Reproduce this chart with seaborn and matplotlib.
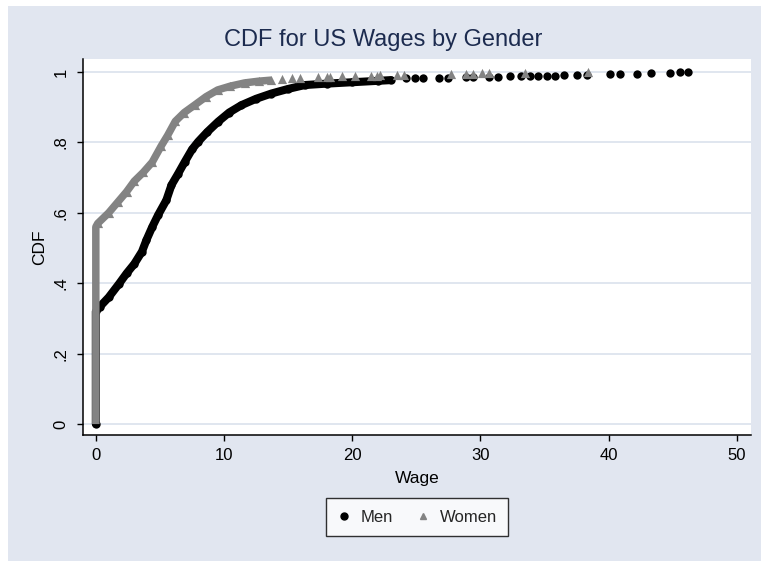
import matplotlib
matplotlib.use('Agg')
import matplotlib.pyplot as plt
from matplotlib.lines import Line2D
from matplotlib.patches import Rectangle
import seaborn as sns

# Men: the dense part of the CDF (markers overlap into a thick band) and the sparse tail
men_wage = [0, 0, 0.3, 1.0, 1.8, 2.4, 3.0, 3.6, 3.95, 4.4, 4.86, 5.5, 5.9, 6.4, 6.94,
            7.5, 7.98, 8.7, 9.54, 10.4, 11.36, 12.5, 13.7, 15.0, 16.3, 18.0, 20.0, 22.0, 23.0]
men_cdf = [0.0, 0.32, 0.333, 0.36, 0.398, 0.428, 0.455, 0.49, 0.523, 0.56, 0.594, 0.636, 0.679,
           0.71, 0.745, 0.78, 0.802, 0.83, 0.859, 0.885, 0.906, 0.924, 0.939, 0.952, 0.963,
           0.967, 0.971, 0.975, 0.977]
men_tail_wage = [24.2, 24.9, 25.5, 26.8, 27.5, 28.9, 29.4, 30.7, 31.4, 32.3, 33.2, 33.9, 34.5,
                 35.2, 35.8, 36.5, 37.5, 38.3, 40.1, 40.9, 42.2, 43.3, 44.8, 45.6, 46.2]
men_tail_cdf = [0.982, 0.983, 0.983, 0.984, 0.984, 0.985, 0.985, 0.986, 0.986, 0.988, 0.988,
                0.989, 0.99, 0.99, 0.99, 0.991, 0.991, 0.992, 0.993, 0.994, 0.995, 0.997,
                0.998, 0.999, 1.0]

# Women
women_wage = [0, 0, 0.15, 1.0, 1.7, 2.4, 3.0, 3.7, 4.4, 5.1, 5.6, 6.2, 6.9, 7.7, 8.6, 9.5,
              10.5, 11.6, 12.7, 13.7]
women_cdf = [0.0, 0.56, 0.57, 0.6, 0.63, 0.66, 0.69, 0.715, 0.744, 0.79, 0.82, 0.86, 0.885,
             0.906, 0.93, 0.949, 0.96, 0.969, 0.974, 0.977]
women_tail_wage = [14.5, 15.3, 15.9, 17.3, 18.0, 18.3, 19.2, 20.2, 21.5, 21.9, 22.2, 23.5,
                   24.0, 27.7, 28.9, 29.4, 30.1, 30.7, 33.5, 38.4]
women_tail_cdf = [0.981, 0.983, 0.984, 0.986, 0.987, 0.987, 0.988, 0.989, 0.99, 0.99, 0.991,
                  0.992, 0.992, 0.994, 0.995, 0.995, 0.996, 0.996, 0.998, 1.0]

x_ticks = [0, 10, 20, 30, 40, 50]
y_ticks = [0, 0.2, 0.4, 0.6, 0.8, 1.0]
y_tick_labels = ['0', '.2', '.4', '.6', '.8', '1']

men_color = 'black'
women_color = '#838383'
bg_color = '#e1e6f0'
grid_color = '#dde4ee'
title_color = '#1c2b4f'

sns.set_theme(style='white')
plt.rcParams['font.family'] = ['Liberation Sans', 'DejaVu Sans']

fig = plt.figure(figsize=(7.61, 5.61), dpi=100, facecolor='white')
fig.add_artist(Rectangle((8 / 761, 0), 1 - 8 / 761, 1 - 6 / 561, transform=fig.transFigure,
                         facecolor=bg_color, edgecolor='none', zorder=-5))
ax = fig.add_axes([83 / 761, 1 - 435 / 561, 668 / 761, 376 / 561])
ax.set_facecolor('white')

# Men (drawn first, women sit on top)
sns.lineplot(x=men_wage, y=men_cdf, sort=False, estimator=None, color=men_color,
             lw=5.8, solid_capstyle='round', solid_joinstyle='round', ax=ax, zorder=3)
sns.scatterplot(x=men_wage + men_tail_wage, y=men_cdf + men_tail_cdf, marker='o', s=36,
                color=men_color, linewidth=0, ax=ax, zorder=3)

# Women
sns.lineplot(x=women_wage, y=women_cdf, sort=False, estimator=None, color=women_color,
             lw=5.4, solid_capstyle='butt', solid_joinstyle='round', ax=ax, zorder=4)
sns.scatterplot(x=women_wage[2:] + women_tail_wage, y=women_cdf[2:] + women_tail_cdf,
                marker='^', s=44, color=women_color, linewidth=0, ax=ax, zorder=4)

ax.set_xlim(-1.0, 51.1)
ax.set_ylim(-0.031, 1.037)
ax.set_xticks(x_ticks)
ax.set_yticks(y_ticks)
ax.set_yticklabels(y_tick_labels, rotation=90, va='center')

ax.yaxis.grid(True, color=grid_color, lw=1.3)
ax.xaxis.grid(False)
ax.set_axisbelow(True)

for side in ['top', 'right']:
    ax.spines[side].set_visible(False)
for side in ['left', 'bottom']:
    ax.spines[side].set_color('black')
    ax.spines[side].set_linewidth(1.1)

ax.tick_params(axis='both', which='major', direction='out', length=4.5, width=1.0,
               color='black', labelsize=12, labelcolor='black', left=True, bottom=True)
ax.tick_params(axis='y', pad=6)
ax.tick_params(axis='x', pad=5)

ax.set_xlabel('Wage', fontsize=12.5, color='black')
ax.set_ylabel('CDF', fontsize=12.5, color='black')
ax.xaxis.set_label_coords(0.5, (435 - 478) / 376)
ax.xaxis.label.set_verticalalignment('center')
ax.yaxis.set_label_coords((40 - 83) / 668, 0.5)
ax.yaxis.label.set_verticalalignment('center')

fig.text(383 / 761, 1 - 40 / 561, 'CDF for US Wages by Gender', ha='center', va='center',
         fontsize=17, color=title_color)

handles = [Line2D([], [], marker='o', ls='none', color=men_color, markersize=5),
           Line2D([], [], marker='^', ls='none', color=women_color, markersize=5)]
leg = fig.legend(handles, ['Men', 'Women'], loc='center', ncol=2,
                 bbox_to_anchor=(417 / 761, 1 - 517 / 561), frameon=True, fancybox=False,
                 fontsize=12, handlelength=0.8, handletextpad=0.6, columnspacing=1.4,
                 borderpad=0.7, borderaxespad=0)
leg.get_frame().set_edgecolor('black')
leg.get_frame().set_linewidth(1.0)
leg.get_frame().set_facecolor('white')

fig.savefig('out.png', dpi=100, facecolor=fig.get_facecolor())
